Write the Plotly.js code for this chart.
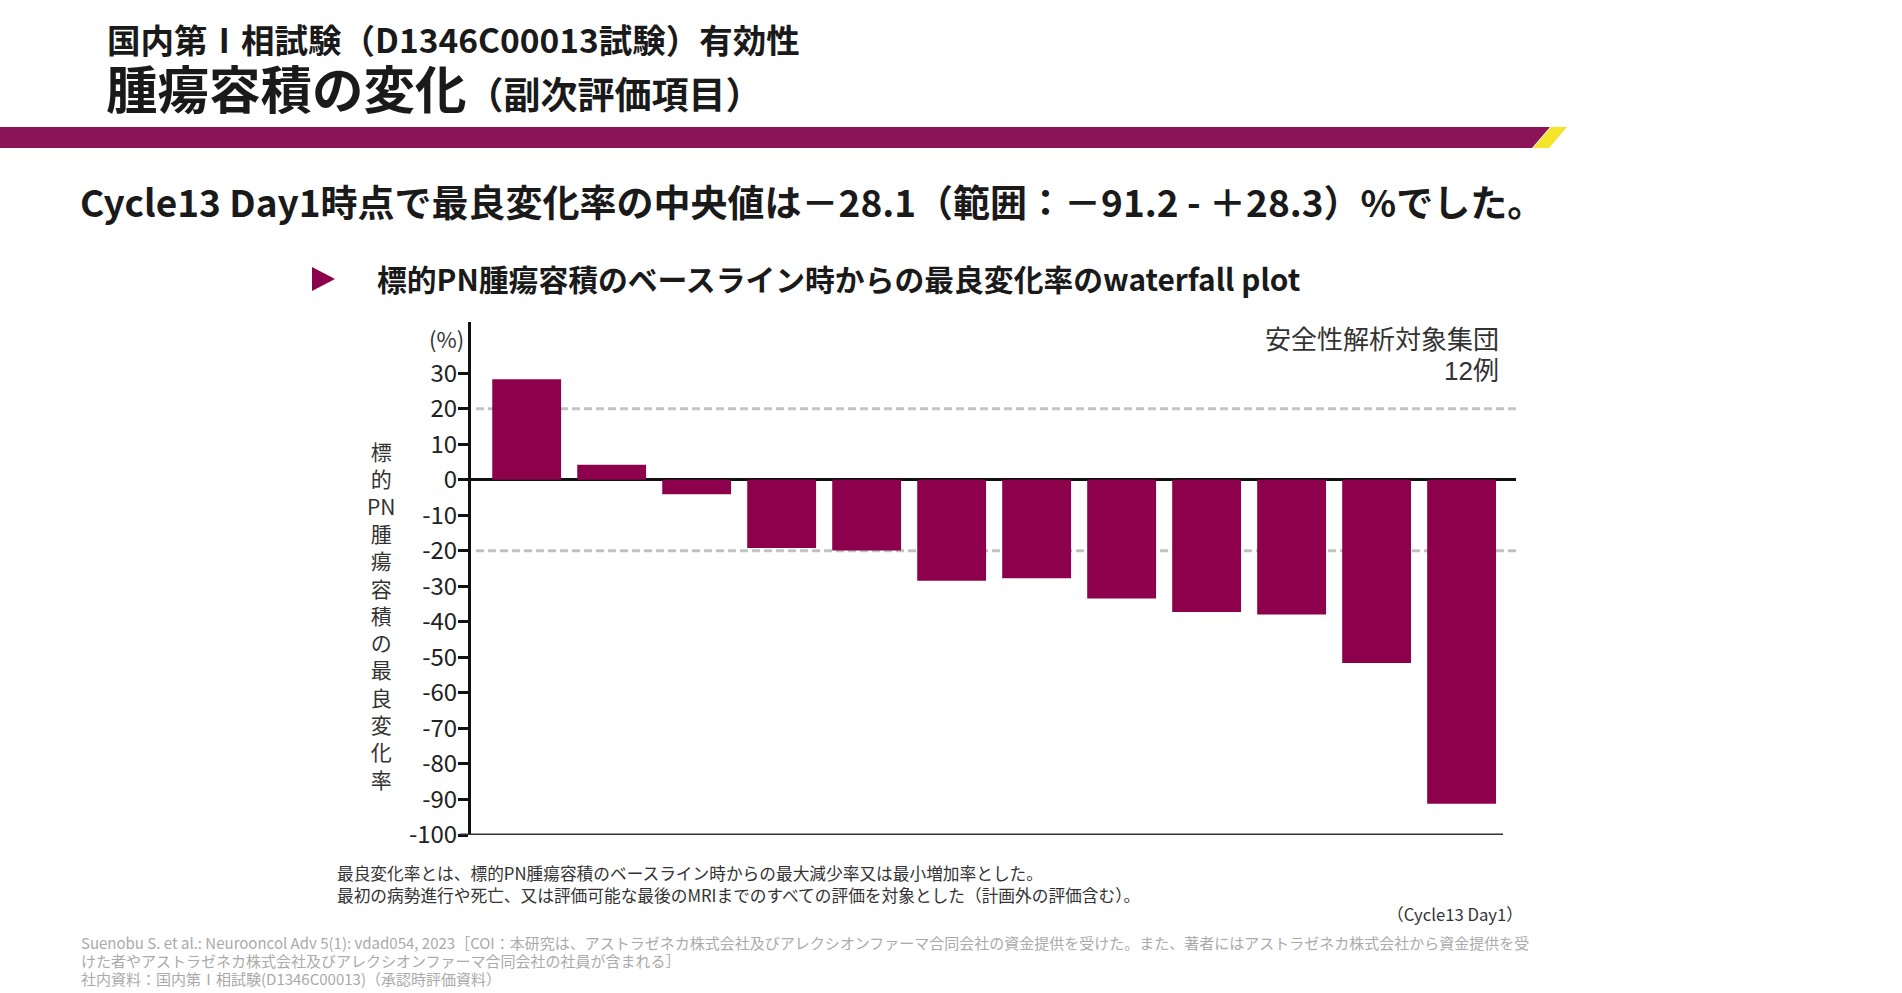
<!DOCTYPE html>
<html>
<head>
<meta charset="utf-8">
<script src="https://cdn.plot.ly/plotly-3.0.1.min.js"></script>
<style>
html,body{margin:0;padding:0;background:#fff;}
#chart{width:1902px;height:993px;}
</style>
</head>
<body>
<div id="chart"></div>
<script>
// ---- data ----
const patients = ['1','2','3','4','5','6','7','8','9','10','11','12'];
const bestChange = [28.3, 4.2, -4.1, -19.2, -19.9, -28.4, -27.7, -33.4, -37.2, -37.9, -51.6, -91.2];
const yTicks = [30, 20, 10, 0, -10, -20, -30, -40, -50, -60, -70, -80, -90, -100];
const yTickText = ['30', '20', '10', '0', '-10', '-20', '-30', '-40', '-50', '-60', '-70', '-80', '-90', '-100'];
const refLines = [20, -20];
const yTitleChars = ['標','的','PN','腫','瘍','容','積','の','最','良','変','化','率'];

const header1 = '国内第Ⅰ相試験（D1346C00013試験）有効性';
const header2a = '腫瘍容積の変化';
const header2b = '（副次評価項目）';
const headline = 'Cycle13 Day1時点で最良変化率の中央値は－28.1（範囲：－91.2 - ＋28.3）%でした。';
const subhead = '標的PN腫瘍容積のベースライン時からの最良変化率のwaterfall plot';
const popLines = ['安全性解析対象集団', '12例'];
const notes = ['最良変化率とは、標的PN腫瘍容積のベースライン時からの最大減少率又は最小増加率とした。',
               '最初の病勢進行や死亡、又は評価可能な最後のMRIまでのすべての評価を対象とした（計画外の評価含む）。'];
const timepoint = '（Cycle13 Day1）';
const sources = ['Suenobu S. et al.: Neurooncol Adv 5(1): vdad054, 2023［COI：本研究は、アストラゼネカ株式会社及びアレクシオンファーマ合同会社の資金提供を受けた。また、著者にはアストラゼネカ株式会社から資金提供を受',
                 'けた者やアストラゼネカ株式会社及びアレクシオンファーマ合同会社の社員が含まれる］',
                 '社内資料：国内第Ⅰ相試験(D1346C00013)（承認時評価資料）'];

// ---- layout geometry ----
const W = 1902, H = 993;
const L = 471, R = 1516, T = 322, B = 835;
const X = px => (px - L) / (R - L);
const Y = py => 1 - (py - T) / (B - T);
const FONT = '"Noto Sans CJK JP", "Noto Sans", sans-serif';
const FONT_TIGHT = '"Liberation Sans", "Noto Sans CJK JP", sans-serif';
const PURPLE = '#8C004C';
const sz = (s, t) => '<span style="font-size:' + s + 'px">' + t + '</span>';

function ann(text, x, y, size, color, opts, family) {
  return Object.assign({
    text: text, xref: 'paper', yref: 'paper', x: X(x), y: Y(y),
    xanchor: 'left', yanchor: 'middle', showarrow: false,
    font: {family: family || FONT, size: size, color: color || '#1a1a1a'}
  }, opts || {});
}

const annotations = [
  ann('<b>' + header1 + '</b>', 105, 38.5, 33.5),
  ann('<b>' + header2a + sz(37, header2b) + '</b>', 104, 90.5, 51.5, '#1a1a1a', {}, FONT_TIGHT),
  ann('<b>' + headline + '</b>', 78, 201, 37),
  ann('<b>' + subhead + '</b>', 375, 278, 29.8),
  ann(yTitleChars.join('<br>'), 381, 615, 21, '#333', {xanchor: 'center'}),
  ann('(%)', 466, 338, 22, '#333', {xanchor: 'right'}),
  ann(popLines[0], 1501, 340, 26, '#333', {xanchor: 'right'}, FONT_TIGHT),
  ann(popLines[1], 1501, 370.5, 26, '#333', {xanchor: 'right'}, FONT_TIGHT),
  ann(notes[0], 335, 873, 16.7, '#333'),
  ann(notes[1], 335, 895, 16.7, '#333'),
  ann(timepoint, 1525, 914, 16.7, '#333', {xanchor: 'right'}),
  ann(sources[0], 79, 942, 15, '#aaa'),
  ann(sources[1], 79, 960, 15, '#aaa'),
  ann(sources[2], 79, 978, 15, '#aaa')
];

const shapes = [
  // header band
  {type: 'path', xref: 'paper', yref: 'paper', layer: 'above',
   path: `M ${X(0)} ${Y(127)} L ${X(1550)} ${Y(127)} L ${X(1532)} ${Y(148)} L ${X(0)} ${Y(148)} Z`,
   fillcolor: '#8A1457', line: {width: 0}},
  {type: 'path', xref: 'paper', yref: 'paper', layer: 'above',
   path: `M ${X(1551)} ${Y(127)} L ${X(1567)} ${Y(127)} L ${X(1549)} ${Y(148)} L ${X(1533)} ${Y(148)} Z`,
   fillcolor: '#F4E42C', line: {width: 0}},
  // bullet triangle
  {type: 'path', xref: 'paper', yref: 'paper', layer: 'above',
   path: `M ${X(312)} ${Y(267)} L ${X(335)} ${Y(279)} L ${X(312)} ${Y(291)} Z`,
   fillcolor: PURPLE, line: {width: 0}},
  // bottom baseline
  {type: 'line', xref: 'paper', yref: 'y', x0: X(460), x1: X(1503), y0: -100, y1: -100,
   line: {color: '#333', width: 3}, layer: 'above'}
];
refLines.forEach(v => shapes.push({
  type: 'line', xref: 'paper', yref: 'y', x0: X(476), x1: 1, y0: v, y1: v,
  line: {color: '#c2c2c2', width: 3, dash: '8px,4px'}, layer: 'below'
}));

const data = [{
  type: 'bar', x: patients, y: bestChange,
  marker: {color: PURPLE, line: {width: 0}},
  hoverinfo: 'skip'
}];

const layout = {
  width: W, height: H, autosize: false,
  margin: {l: L, r: W - R, t: T, b: H - B, pad: 0},
  paper_bgcolor: '#fff', plot_bgcolor: 'rgba(0,0,0,0)',
  showlegend: false, bargap: 0.19,
  font: {family: FONT, color: '#222'},
  xaxis: {type: 'category', range: [-0.655, 11.64], showticklabels: false, ticks: '',
          showline: false, showgrid: false, zeroline: false, fixedrange: true},
  yaxis: {range: [-100, 44.4], tickvals: yTicks, ticktext: yTickText, ticks: 'outside', ticklen: 10, tickwidth: 3,
          tickcolor: '#111', showline: true, linewidth: 3, linecolor: '#111',
          zeroline: true, zerolinewidth: 3, zerolinecolor: '#111', showgrid: false,
          ticklabelstandoff: -4,
          tickfont: {family: FONT, size: 24, color: '#222'}, fixedrange: true},
  shapes: shapes,
  annotations: annotations
};

Plotly.newPlot('chart', data, layout, {displayModeBar: false, staticPlot: true});
</script>
</body>
</html>
